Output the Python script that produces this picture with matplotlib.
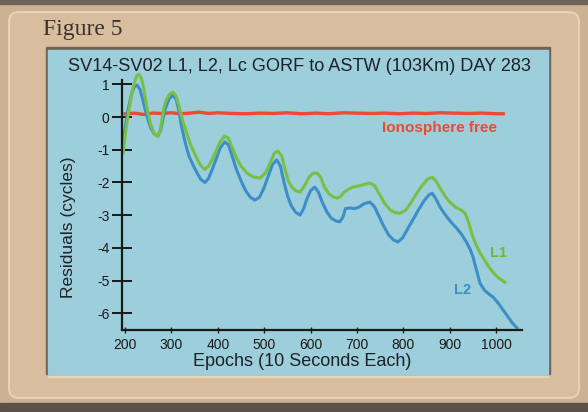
import matplotlib
matplotlib.use("Agg")
import matplotlib.pyplot as plt
from matplotlib.patches import Rectangle, FancyBboxPatch

plt.rcParams['axes.unicode_minus'] = False

# epochs / residuals (cycles)
l1_epochs = [196, 200, 205, 210, 215, 220, 225, 230, 235, 240, 245, 250, 255, 260, 265, 271,
             276, 280, 285, 290, 296, 303, 310, 318, 325, 332, 340, 348, 356, 364, 372, 380,
             388, 396, 405, 415, 423, 430, 440, 450, 462, 475, 491, 503, 513, 522, 530, 538,
             545, 552, 560, 568, 577, 587, 596, 605, 614, 622, 630, 640, 650, 657, 665, 672,
             680, 691, 705, 718, 728, 738, 748, 760, 772, 782, 793, 805, 815, 828, 840, 852,
             862, 870, 880, 890, 900, 912, 925, 933, 940, 948, 955, 965, 975, 985, 995, 1005, 1019]
l1_resid = [-1.1, -0.6, -0.1, 0.35, 0.75, 1.05, 1.25, 1.31, 1.2, 0.9, 0.45, 0.1, -0.2, -0.42, -0.55, -0.58,
            -0.4, -0.05, 0.35, 0.55, 0.7, 0.76, 0.65, 0.25, -0.15, -0.45, -0.8, -1.05, -1.3, -1.5, -1.6, -1.5,
            -1.3, -1.05, -0.75, -0.58, -0.65, -0.9, -1.25, -1.5, -1.7, -1.82, -1.87, -1.7, -1.4, -1.1, -1.04, -1.2,
            -1.6, -1.95, -2.15, -2.25, -2.3, -2.1, -1.85, -1.72, -1.71, -1.85, -2.15, -2.35, -2.45, -2.48, -2.42, -2.3,
            -2.22, -2.14, -2.1, -2.05, -2.02, -2.1, -2.35, -2.65, -2.85, -2.92, -2.94, -2.85, -2.65, -2.35, -2.1, -1.9,
            -1.84, -1.95, -2.2, -2.42, -2.6, -2.75, -2.85, -2.94, -3.2, -3.6, -3.85, -4.15, -4.38, -4.6, -4.78, -4.92, -5.05]

l2_epochs = [196, 200, 205, 210, 215, 220, 226, 232, 238, 244, 250, 256, 262, 271, 277, 282,
             288, 295, 303, 310, 316, 322, 330, 338, 346, 355, 363, 372, 380, 388, 396, 405,
             415, 423, 430, 440, 450, 460, 470, 480, 490, 500, 510, 518, 527, 535, 542, 550,
             558, 567, 577, 585, 592, 600, 609, 617, 625, 635, 645, 655, 663, 670, 675, 685,
             695, 705, 715, 728, 738, 748, 758, 768, 778, 788, 798, 808, 820, 832, 845, 855,
             862, 870, 880, 894, 905, 915, 926, 935, 944, 950, 958, 965, 975, 985, 993, 1005,
             1015, 1025, 1035, 1045]
l2_resid = [-0.8, -0.35, 0.1, 0.45, 0.75, 0.92, 0.98, 0.85, 0.55, 0.2, -0.1, -0.35, -0.5, -0.58, -0.4, -0.05,
            0.3, 0.55, 0.67, 0.55, 0.2, -0.3, -0.8, -1.2, -1.45, -1.7, -1.9, -2.0, -1.88, -1.6, -1.3, -0.95,
            -0.76, -0.85, -1.15, -1.6, -1.95, -2.25, -2.45, -2.54, -2.45, -2.15, -1.75, -1.45, -1.31, -1.5, -1.95, -2.4,
            -2.7, -2.9, -3.0, -2.8, -2.5, -2.25, -2.14, -2.3, -2.6, -2.9, -3.1, -3.18, -3.2, -3.05, -2.8, -2.78,
            -2.8, -2.75, -2.65, -2.6, -2.75, -3.05, -3.35, -3.6, -3.75, -3.82, -3.7, -3.45, -3.15, -2.85, -2.55, -2.38,
            -2.33, -2.5, -2.78, -3.06, -3.25, -3.4, -3.6, -3.8, -4.05, -4.28, -4.7, -5.08, -5.3, -5.42, -5.5, -5.7,
            -5.9, -6.1, -6.3, -6.45]

lc_epochs = [200, 220, 240, 260, 280, 300, 320, 340, 360, 380, 400, 430, 460, 490, 520, 550,
             580, 610, 640, 670, 700, 730, 760, 790, 820, 850, 880, 910, 940, 970, 1000, 1015]
lc_resid = [0.10, 0.12, 0.08, 0.12, 0.11, 0.13, 0.10, 0.12, 0.15, 0.11, 0.13, 0.11, 0.10, 0.12, 0.11, 0.13,
            0.10, 0.12, 0.10, 0.13, 0.12, 0.11, 0.12, 0.10, 0.12, 0.11, 0.13, 0.12, 0.11, 0.12, 0.10, 0.10]

x_ticks = [200, 300, 400, 500, 600, 700, 800, 900, 1000]
y_ticks = [1, 0, -1, -2, -3, -4, -5, -6]

W, H = 588, 412
fig = plt.figure(figsize=(W / 100, H / 100), dpi=100)
fig.patch.set_facecolor('#cdb193')

# page decoration in pixel coordinates
bg = fig.add_axes([0, 0, 1, 1])
bg.set_xlim(0, W)
bg.set_ylim(H, 0)
bg.axis('off')
bg.add_patch(Rectangle((0, 0), W, 4, color='#6e6258'))
bg.add_patch(Rectangle((0, 403), W, 9, color='#5c5048'))
bg.add_patch(FancyBboxPatch((9, 12), 570, 386, boxstyle='round,pad=0,rounding_size=10',
                            facecolor='#d8be9e', edgecolor='#e6d3b8', linewidth=1.5))
bg.add_patch(Rectangle((48, 374), 500, 3, color='#e6d4bb'))
bg.add_patch(Rectangle((46, 47), 504, 327, color='#6f6258'))
bg.add_patch(Rectangle((48, 50), 500, 324, color='#9ccedb'))
bg.text(43, 35, 'Figure 5', family='Liberation Serif', fontsize=17, color='#3a3430')
bg.text(299, 66, 'SV14-SV02 L1, L2, Lc GORF to ASTW (103Km) DAY 283',
        family='Liberation Sans', fontsize=13.1, color='#1e2226', ha='center', va='center')
bg.text(302, 362, 'Epochs (10 Seconds Each)', family='Liberation Sans', fontsize=13,
        color='#1e2226', ha='center', va='center')
bg.text(68, 227, 'Residuals (cycles)', family='Liberation Sans', fontsize=12.5,
        color='#1e2226', ha='center', va='center', rotation=90)

# main plot
ax = fig.add_axes([122 / W, 1 - 330 / H, 400 / W, 265.3 / H])
ax.patch.set_alpha(0)
ax.plot(lc_epochs, lc_resid, color='#ec4a33', linewidth=2.4)
ax.plot(l2_epochs, l2_resid, color='#3b8fc6', linewidth=2.2)
ax.plot(l1_epochs, l1_resid, color='#78c043', linewidth=2.2)

ax.text(877, -0.34, 'Ionosphere free', color='#ec4a33', fontsize=11, fontweight='bold',
        family='Liberation Sans', ha='center', va='center')
ax.text(1006, -4.16, 'L1', color='#6cb83c', fontsize=10.5, fontweight='bold',
        family='Liberation Sans', ha='center', va='center')
ax.text(928, -5.29, 'L2', color='#3b8fc6', fontsize=10.5, fontweight='bold',
        family='Liberation Sans', ha='center', va='center')

ax.set_xlim(193.5, 1055.6)
ax.set_ylim(-6.51, 1.6)
for s in ['top', 'right']:
    ax.spines[s].set_visible(False)
for s in ['left', 'bottom']:
    ax.spines[s].set_linewidth(1.6)
    ax.spines[s].set_color('#1a1a1a')
ax.spines['left'].set_bounds(-6.51, 1.13)

ax.set_xticks(x_ticks)
ax.set_yticks(y_ticks)
ax.tick_params(axis='y', direction='inout', length=14, width=1.4, pad=2, labelsize=10,
               colors='#1a1a1a')
ax.tick_params(axis='x', direction='inout', length=5, width=1.0, pad=3, labelsize=10,
               colors='#1a1a1a')
for lab in ax.get_xticklabels() + ax.get_yticklabels():
    lab.set_family('Liberation Sans')

fig.savefig('out.png', dpi=100, facecolor=fig.get_facecolor())
